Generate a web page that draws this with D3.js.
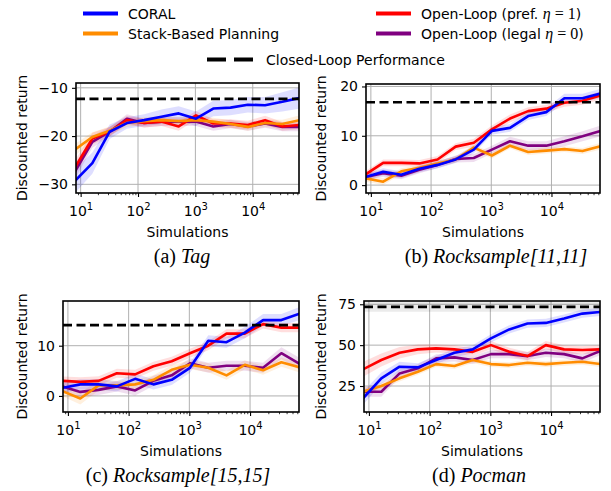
<!DOCTYPE html>
<html>
<head>
<meta charset="utf-8">
<script src="https://cdn.jsdelivr.net/npm/d3@7"></script>
<style>
  body { margin: 0; background: #fff; }
  svg { display: block; }
</style>
</head>
<body>
<div id="container"></div>
<script>
// number of simulations (x values, shared by all four panels)
const sims = [8, 16, 32, 64, 128, 256, 512, 1024, 2048, 4096, 8192, 16384, 32768, 65536];

const seriesNames = ["CORAL", "Stack-Based Planning", "Open-Loop (pref. ", "Open-Loop (legal "];
const seriesEta = ["", "", "1", "0"];
const seriesColors = ["#0000ff", "#ff8c00", "#ff0000", "#800080"];
const closedName = "Closed-Loop Performance";

const panelLetters = ["(a)", "(b)", "(c)", "(d)"];
const panelTitles = ["Tag", "Rocksample[11,11]", "Rocksample[15,15]", "Pocman"];

const xTickValues = [10, 100, 1000, 10000];
const xTickExps = ["1", "2", "3", "4"];

// (a) Tag
const tagCoral = [-29.3, -25.6, -19.1, -17.3, -16.7, -16.0, -15.3, -16.4, -14.3, -14.1, -13.5, -13.6, -12.9, -12.1];
const tagStack = [-22.8, -20.2, -18.9, -17.3, -16.9, -16.7, -16.9, -16.7, -17.0, -17.5, -18.1, -17.3, -17.5, -16.7];
const tagPref  = [-26.5, -20.5, -19.1, -16.7, -17.3, -17.0, -18.0, -15.7, -17.4, -17.4, -17.7, -16.7, -18.0, -17.7];
const tagLegal = [-27.3, -21.2, -19.1, -16.4, -17.3, -17.0, -17.0, -17.0, -18.0, -17.5, -18.0, -17.4, -18.1, -18.1];
const tagCoralStd = [2.5, 2.2, 1.5, 1.2, 1.2, 1.5, 1.5, 1.5, 1.6, 1.6, 1.6, 1.7, 2.0, 2.2];
const tagStackStd = [1.2, 1.0, 0.9, 0.8, 0.8, 0.8, 0.8, 0.8, 0.8, 0.8, 0.8, 0.8, 0.9, 1.0];
const tagPrefStd  = [1.5, 1.2, 1.0, 0.9, 0.9, 0.9, 0.9, 0.9, 0.9, 0.9, 0.9, 0.9, 0.9, 0.9];
const tagLegalStd = [1.5, 1.2, 1.0, 0.9, 0.9, 0.9, 0.9, 0.9, 0.9, 0.9, 0.9, 0.9, 0.9, 0.9];
const tagClosed = -12.3;
const tagTicks = [-30, -20, -10];

// (b) Rocksample[11,11]
const rs11Coral = [1.6, 2.7, 2.1, 3.3, 4.1, 5.2, 7.2, 11.0, 11.6, 14.0, 14.8, 17.6, 17.6, 18.6];
const rs11Stack = [1.4, 0.7, 2.8, 3.5, 4.4, 5.2, 7.6, 6.0, 8.0, 6.7, 7.0, 7.3, 6.9, 7.9];
const rs11Pref  = [2.1, 4.5, 4.5, 4.4, 5.2, 7.8, 8.6, 11.3, 13.5, 15.0, 15.5, 16.7, 17.1, 18.2];
const rs11Legal = [1.6, 2.4, 1.9, 3.1, 4.1, 5.3, 5.5, 7.2, 8.9, 8.0, 8.0, 8.9, 9.9, 11.0];
const rs11CoralStd = [0.7, 0.7, 0.7, 0.7, 0.7, 0.7, 0.8, 0.8, 0.8, 0.8, 0.8, 0.9, 0.9, 0.9];
const rs11StackStd = [0.7, 0.7, 0.6, 0.6, 0.6, 0.6, 0.6, 0.6, 0.6, 0.6, 0.6, 0.6, 0.6, 0.7];
const rs11PrefStd  = [0.7, 0.7, 0.7, 0.7, 0.7, 0.7, 0.8, 0.8, 0.8, 0.8, 0.8, 0.8, 0.8, 0.8];
const rs11LegalStd = [0.7, 0.7, 0.7, 0.7, 0.7, 0.7, 0.8, 0.8, 0.9, 0.9, 0.9, 1.0, 1.0, 1.1];
const rs11Closed = 16.8;
const rs11Ticks = [0, 10, 20];

// (c) Rocksample[15,15]
const rs15Coral = [1.6, 2.3, 2.3, 1.9, 3.4, 2.3, 3.2, 5.6, 11.0, 10.7, 12.6, 15.1, 15.1, 16.4];
const rs15Stack = [1.0, -0.5, 2.1, 2.1, 2.3, 3.2, 5.2, 6.2, 5.6, 4.1, 6.2, 5.1, 6.7, 5.7];
const rs15Pref  = [3.0, 2.8, 3.0, 4.5, 4.3, 5.9, 6.9, 8.5, 10.0, 12.4, 12.4, 14.3, 13.6, 13.6];
const rs15Legal = [1.9, 0.8, 1.2, 1.9, 1.1, 3.0, 4.1, 6.5, 5.6, 6.0, 6.0, 5.6, 8.5, 6.4];
const rs15CoralStd = [1.0, 1.0, 1.0, 1.0, 1.0, 1.0, 1.0, 1.0, 1.1, 1.1, 1.1, 1.2, 1.2, 1.3];
const rs15StackStd = [1.0, 1.2, 1.0, 0.9, 0.9, 0.9, 0.9, 0.9, 0.9, 0.9, 0.9, 0.9, 0.9, 1.0];
const rs15PrefStd  = [0.9, 0.9, 0.9, 0.9, 0.9, 0.9, 0.9, 0.9, 0.9, 0.9, 0.9, 0.9, 0.9, 0.9];
const rs15LegalStd = [1.0, 1.0, 1.0, 1.0, 1.0, 1.0, 1.0, 1.0, 1.0, 1.0, 1.0, 1.0, 1.2, 1.2];
const rs15Closed = 14.1;
const rs15Ticks = [0, 10];

// (d) Pocman
const pocCoral = [17.5, 29.7, 36.8, 36.4, 40.9, 45.3, 47.4, 54.1, 59.6, 63.2, 63.6, 66.3, 69.3, 70.3];
const pocStack = [21.5, 25.0, 29.7, 33.7, 38.4, 37.2, 40.9, 38.4, 37.8, 39.2, 38.4, 39.2, 39.8, 38.4];
const pocPref  = [35.2, 40.9, 45.3, 47.4, 48.0, 47.4, 45.9, 50.0, 45.9, 43.3, 50.0, 47.4, 47.0, 47.4];
const pocLegal = [21.5, 21.5, 32.7, 35.8, 41.9, 42.5, 40.9, 44.5, 44.5, 43.3, 45.3, 44.5, 41.9, 46.5];
const pocCoralStd = [4.0, 3.5, 3.0, 2.5, 2.5, 2.5, 2.5, 2.5, 2.5, 2.5, 2.5, 2.5, 2.5, 2.5];
const pocStackStd = [2.5, 2.0, 2.0, 1.8, 1.8, 1.8, 1.8, 1.8, 1.8, 1.8, 1.8, 1.8, 1.8, 1.8];
const pocPrefStd  = [4.5, 4.0, 3.5, 3.0, 2.5, 2.5, 2.5, 2.5, 2.5, 2.5, 2.5, 2.5, 2.5, 2.5];
const pocLegalStd = [3.0, 3.0, 2.5, 2.5, 2.5, 2.5, 2.5, 2.5, 2.5, 2.5, 2.5, 2.5, 2.5, 2.5];
const pocClosed = 73.4;
const pocClosedStd = 3.0;
const pocTicks = [25, 50, 75];

const width = 611;
const height = 491;
const fontSans = "'DejaVu Sans', sans-serif";
const fontSerif = "'Liberation Serif', 'Times New Roman', serif";

// panel layout (pixel frames)
const panels = [
  { values: [tagCoral, tagStack, tagPref, tagLegal], stds: [tagCoralStd, tagStackStd, tagPrefStd, tagLegalStd],
    closed: tagClosed, closedStd: 0, yDomain: [-31.8, -9.0], yTicks: tagTicks,
    x0: 76, x1: 299, y0: 83, y1: 193, labelX: 22, capX: 182, capY: 263 },
  { values: [rs11Coral, rs11Stack, rs11Pref, rs11Legal], stds: [rs11CoralStd, rs11StackStd, rs11PrefStd, rs11LegalStd],
    closed: rs11Closed, closedStd: 0, yDomain: [-1.6, 20.5], yTicks: rs11Ticks,
    x0: 366, x1: 600, y0: 84, y1: 193, labelX: 321, capX: 496, capY: 263 },
  { values: [rs15Coral, rs15Stack, rs15Pref, rs15Legal], stds: [rs15CoralStd, rs15StackStd, rs15PrefStd, rs15LegalStd],
    closed: rs15Closed, closedStd: 0, yDomain: [-3.2, 18.9], yTicks: rs15Ticks,
    x0: 63, x1: 299, y0: 301, y1: 412, labelX: 22, capX: 178, capY: 482 },
  { values: [pocCoral, pocStack, pocPref, pocLegal], stds: [pocCoralStd, pocStackStd, pocPrefStd, pocLegalStd],
    closed: pocClosed, closedStd: pocClosedStd, yDomain: [9.1, 77.0], yTicks: pocTicks,
    x0: 364, x1: 600, y0: 301, y1: 412, labelX: 321, capX: 479, capY: 482 }
];

const svg = d3.select("#container")
  .append("svg")
  .attr("width", width)
  .attr("height", height);

// minor ticks for the log axis
const minorTicks = [];
[1, 10, 100, 1000, 10000].forEach(base => {
  for (let m = 2; m <= 9; m++) minorTicks.push(base * m);
});

panels.forEach((p, pi) => {
  const x = d3.scaleLog().domain([8.3, 64000]).range([p.x0, p.x1]);
  const y = d3.scaleLinear().domain(p.yDomain).range([p.y1, p.y0]);

  const g = svg.append("g");

  svg.append("clipPath").attr("id", "clip" + pi)
    .append("rect")
    .attr("x", p.x0).attr("y", p.y0)
    .attr("width", p.x1 - p.x0).attr("height", p.y1 - p.y0);

  //grid
  g.selectAll(".gx").data(xTickValues).join("line")
    .attr("x1", d => x(d)).attr("x2", d => x(d))
    .attr("y1", p.y0).attr("y2", p.y1)
    .attr("stroke", "#b0b0b0").attr("stroke-width", 1);
  g.selectAll(".gy").data(p.yTicks).join("line")
    .attr("x1", p.x0).attr("x2", p.x1)
    .attr("y1", d => y(d)).attr("y2", d => y(d))
    .attr("stroke", "#b0b0b0").attr("stroke-width", 1);

  const plot = g.append("g").attr("clip-path", `url(#clip${pi})`);

  //closed-loop band (only visible in pocman)
  if (p.closedStd > 0) {
    plot.append("rect")
      .attr("x", p.x0).attr("width", p.x1 - p.x0)
      .attr("y", y(p.closed + p.closedStd))
      .attr("height", y(p.closed - p.closedStd) - y(p.closed + p.closedStd))
      .attr("fill", "#000").attr("opacity", 0.08);
  }

  const area = d3.area().x((d, i) => x(sims[i]));
  const line = d3.line().x((d, i) => x(sims[i])).y(d => y(d));

  //bands first, then the lines on top
  p.values.forEach((vals, si) => {
    const sd = p.stds[si];
    plot.append("path")
      .datum(vals)
      .attr("d", area.y0((d, i) => y(d - sd[i])).y1((d, i) => y(d + sd[i])))
      .attr("fill", seriesColors[si])
      .attr("opacity", 0.13);
  });
  // draw order: purple, red, orange, blue
  [3, 2, 1, 0].forEach(si => {
    plot.append("path")
      .datum(p.values[si])
      .attr("d", line)
      .attr("fill", "none")
      .attr("stroke", seriesColors[si])
      .attr("stroke-width", 2.6)
      .attr("stroke-linejoin", "round");
  });

  //closed-loop dashed line
  plot.append("line")
    .attr("x1", p.x0).attr("x2", p.x1)
    .attr("y1", y(p.closed)).attr("y2", y(p.closed))
    .attr("stroke", "black")
    .attr("stroke-width", 2.6)
    .attr("stroke-dasharray", "9,4.5");

  //x axis, major ticks
  const xAxis = g.append("g")
    .attr("transform", `translate(0,${p.y1})`)
    .call(d3.axisBottom(x).tickValues(xTickValues).tickSize(4).tickPadding(4).tickFormat(() => ""));
  xAxis.select(".domain").remove();
  xAxis.selectAll(".tick line").attr("stroke-width", 1.1);
  xAxis.selectAll(".tick text").each(function(d, i) {
    const t = d3.select(this)
      .attr("font-family", fontSans)
      .attr("font-size", 14)
      .attr("fill", "black")
      .attr("dy", "1.05em");
    t.append("tspan").text("10");
    t.append("tspan").text(xTickExps[i]).attr("font-size", 10).attr("dy", "-0.55em");
  });

  //x axis, minor ticks
  const xMinor = g.append("g")
    .attr("transform", `translate(0,${p.y1})`)
    .call(d3.axisBottom(x).tickValues(minorTicks.filter(v => x(v) >= p.x0 && x(v) <= p.x1)).tickSize(2.2).tickFormat(() => ""));
  xMinor.select(".domain").remove();
  xMinor.selectAll(".tick line").attr("stroke-width", 0.8);

  //y axis
  const yAxis = g.append("g")
    .attr("transform", `translate(${p.x0},0)`)
    .call(d3.axisLeft(y).tickValues(p.yTicks).tickSize(4).tickPadding(4)
      .tickFormat(d => (d < 0 ? "\u2212" + Math.abs(d) : String(d))));
  yAxis.select(".domain").remove();
  yAxis.selectAll(".tick line").attr("stroke-width", 1.1);
  yAxis.selectAll(".tick text")
    .attr("font-family", fontSans)
    .attr("font-size", 14)
    .attr("fill", "black");

  //frame
  g.append("rect")
    .attr("x", p.x0).attr("y", p.y0)
    .attr("width", p.x1 - p.x0).attr("height", p.y1 - p.y0)
    .attr("fill", "none")
    .attr("stroke", "black")
    .attr("stroke-width", 1.6);

  //axis labels
  g.append("text")
    .attr("x", (p.x0 + p.x1) / 2)
    .attr("y", p.y1 + 44)
    .attr("text-anchor", "middle")
    .attr("font-family", fontSans)
    .attr("font-size", 14)
    .text("Simulations");
  g.append("text")
    .attr("transform", `translate(${p.labelX},${(p.y0 + p.y1) / 2}) rotate(-90)`)
    .attr("text-anchor", "middle")
    .attr("dominant-baseline", "central")
    .attr("font-family", fontSans)
    .attr("font-size", 14)
    .text("Discounted return");

  //caption
  const cap = g.append("text")
    .attr("x", p.capX)
    .attr("y", p.capY)
    .attr("text-anchor", "middle")
    .attr("font-family", fontSerif)
    .attr("font-size", 20);
  cap.append("tspan").text(panelLetters[pi] + " ");
  cap.append("tspan").attr("font-style", "italic").text(panelTitles[pi]);
});

//legend
const legendX = [83, 376];
const legendTextX = [128, 421];
const legendY = [13.5, 33.5];
seriesNames.forEach((name, i) => {
  const col = Math.floor(i / 2);
  const row = i % 2;
  svg.append("line")
    .attr("x1", legendX[col]).attr("x2", legendX[col] + 35)
    .attr("y1", legendY[row]).attr("y2", legendY[row])
    .attr("stroke", seriesColors[i])
    .attr("stroke-width", 4);
  const t = svg.append("text")
    .attr("x", legendTextX[col])
    .attr("y", legendY[row])
    .attr("dy", "0.36em")
    .attr("font-family", fontSans)
    .attr("font-size", 14)
    .text(name);
  if (seriesEta[i]) {
    t.append("tspan").attr("font-family", fontSerif).attr("font-style", "italic").attr("font-size", 16).text("\u03b7");
    t.append("tspan").attr("font-family", fontSerif).attr("font-size", 16).text(" = " + seriesEta[i]);
    t.append("tspan").text(")");
  }
});
svg.append("line")
  .attr("x1", 207).attr("x2", 253)
  .attr("y1", 59.5).attr("y2", 59.5)
  .attr("stroke", "black")
  .attr("stroke-width", 4)
  .attr("stroke-dasharray", "19,8");
svg.append("text")
  .attr("x", 266)
  .attr("y", 59.5)
  .attr("dy", "0.36em")
  .attr("font-family", fontSans)
  .attr("font-size", 14)
  .text(closedName);
</script>
</body>
</html>
